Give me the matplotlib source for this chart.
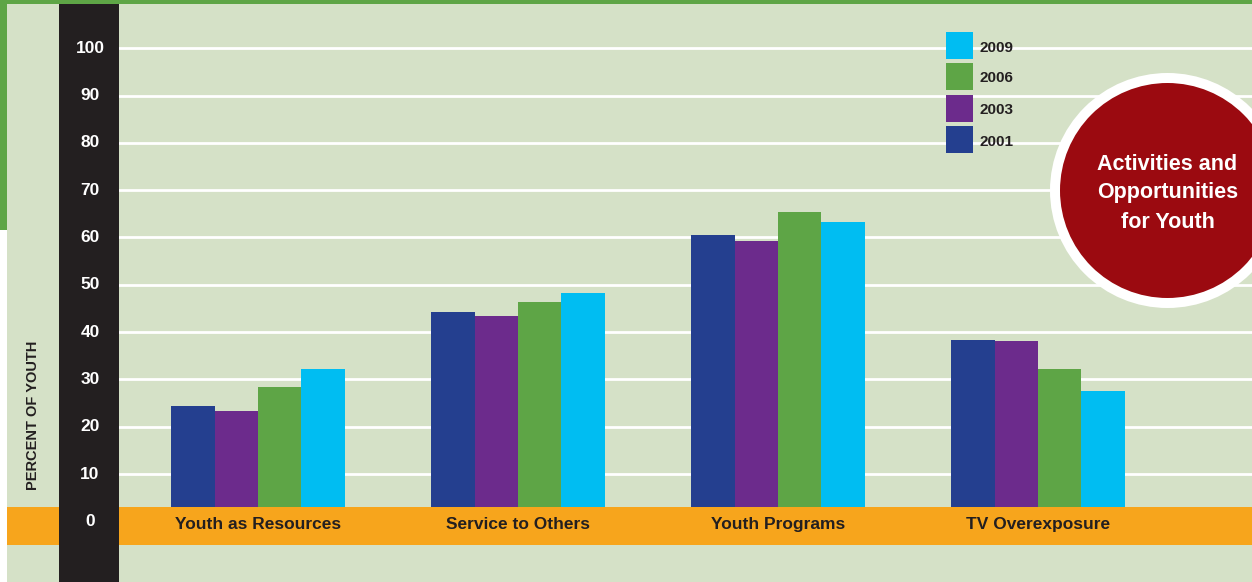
import matplotlib
matplotlib.use("Agg")
import matplotlib.pyplot as plt
from matplotlib.patches import Rectangle, Circle
import numpy as np

# Data
categories = ["Youth as Resources", "Service to Others", "Youth Programs", "TV Overexposure"]
years = ["2001", "2003", "2006", "2009"]
v2001 = [24.4, 44.3, 60.5, 38.3]
v2003 = [23.3, 43.4, 59.3, 38.1]
v2006 = [28.4, 46.4, 65.4, 32.2]
v2009 = [32.2, 48.3, 63.3, 27.6]
yticks = [0, 10, 20, 30, 40, 50, 60, 70, 80, 90, 100]

colors = {"2001": "#243f8f", "2003": "#6c2b8c", "2006": "#5ea546", "2009": "#00bdf2"}
bg = "#d5e1c7"
dark = "#231f20"
narrow = ["Liberation Sans Narrow", "Liberation Sans", "DejaVu Sans"]
wide = ["Liberation Sans", "DejaVu Sans"]

W, H = 1252, 582
fig = plt.figure(figsize=(W / 100, H / 100), dpi=100)
fig.patch.set_facecolor(bg)
ax = fig.add_axes([0, 0, 1, 1])
ax.set_facecolor(bg)
ax.axis("off")
ax.set_xlim(-0.992, 3.823)
ax.set_ylim(-12.83, 110.2)


def box(x0, y0, x1, y1, color, z):
    # rectangle given in pixel coords (top-left origin)
    ax.add_patch(Rectangle((x0 / W, 1 - y1 / H), (x1 - x0) / W, (y1 - y0) / H,
                           transform=ax.transAxes, facecolor=color, edgecolor="none",
                           zorder=z, clip_on=False))


# frame decorations
box(0, 0, W, 4, "#5ea546", 1)
box(0, 0, 7, 230, "#5ea546", 1)
box(0, 230, 7, H, "white", 1)

# gridlines
for t in yticks[1:]:
    ax.plot([-0.538, 3.9], [t, t], color="white", lw=2, zorder=2, solid_capstyle="butt")

# bars
x = np.arange(len(categories))
w = 0.167
series = [v2001, v2003, v2006, v2009]
for i, (yr, vals) in enumerate(zip(years, series)):
    ax.bar(x + (i - 1.5) * w, np.array(vals) + 5, bottom=-5, width=w,
           color=colors[yr], zorder=3)

# orange band and black band
box(7, 507, W, 545, "#f7a51c", 4)
box(59, 4, 119, H, dark, 5)

# y tick labels
for t in yticks:
    ax.text(90 / W, t, str(t), transform=ax.get_yaxis_transform(), color="white",
            fontsize=12.5, fontweight="bold", family=narrow, ha="center", va="center", zorder=6)

# category labels
for i, c in enumerate(categories):
    ax.text(i, -0.6, c, color=dark, fontsize=12.5, fontweight="bold", family=narrow,
            ha="center", va="center", zorder=6)

ax.text(33 / W, 1 - 415 / H, "PERCENT OF YOUTH", transform=ax.transAxes, rotation=90,
        color=dark, fontsize=10.5, fontweight="bold", family=narrow,
        ha="center", va="center", zorder=6)

# legend
leg_y = [45.5, 76, 108, 139.5]
for yr, yy in zip(["2009", "2006", "2003", "2001"], leg_y):
    box(946, yy - 13.5, 973, yy + 13.5, colors[yr], 6)
    ax.text(980 / W, 1 - (yy + 2) / H, yr, transform=ax.transAxes, color=dark,
            fontsize=11, fontweight="bold", family=narrow, ha="left", va="center", zorder=7)

# title circle
cx, cy = 1167.5, 190.5
ax.add_patch(Circle((cx / 100, (H - cy) / 100), 1.175, transform=fig.dpi_scale_trans,
                    facecolor="white", edgecolor="none", zorder=8, clip_on=False))
ax.add_patch(Circle((cx / 100, (H - cy) / 100), 1.075, transform=fig.dpi_scale_trans,
                    facecolor="#9b0a10", edgecolor="none", zorder=9, clip_on=False))
for line, yy in zip(["Activities and", "Opportunities", "for Youth"], [164, 193, 222]):
    ax.text(cx / W, 1 - yy / H, line, transform=ax.transAxes, color="white",
            fontsize=15.5, fontweight="bold", family=wide, ha="center", va="center", zorder=10)

fig.savefig("out.png", dpi=100, facecolor=bg)
